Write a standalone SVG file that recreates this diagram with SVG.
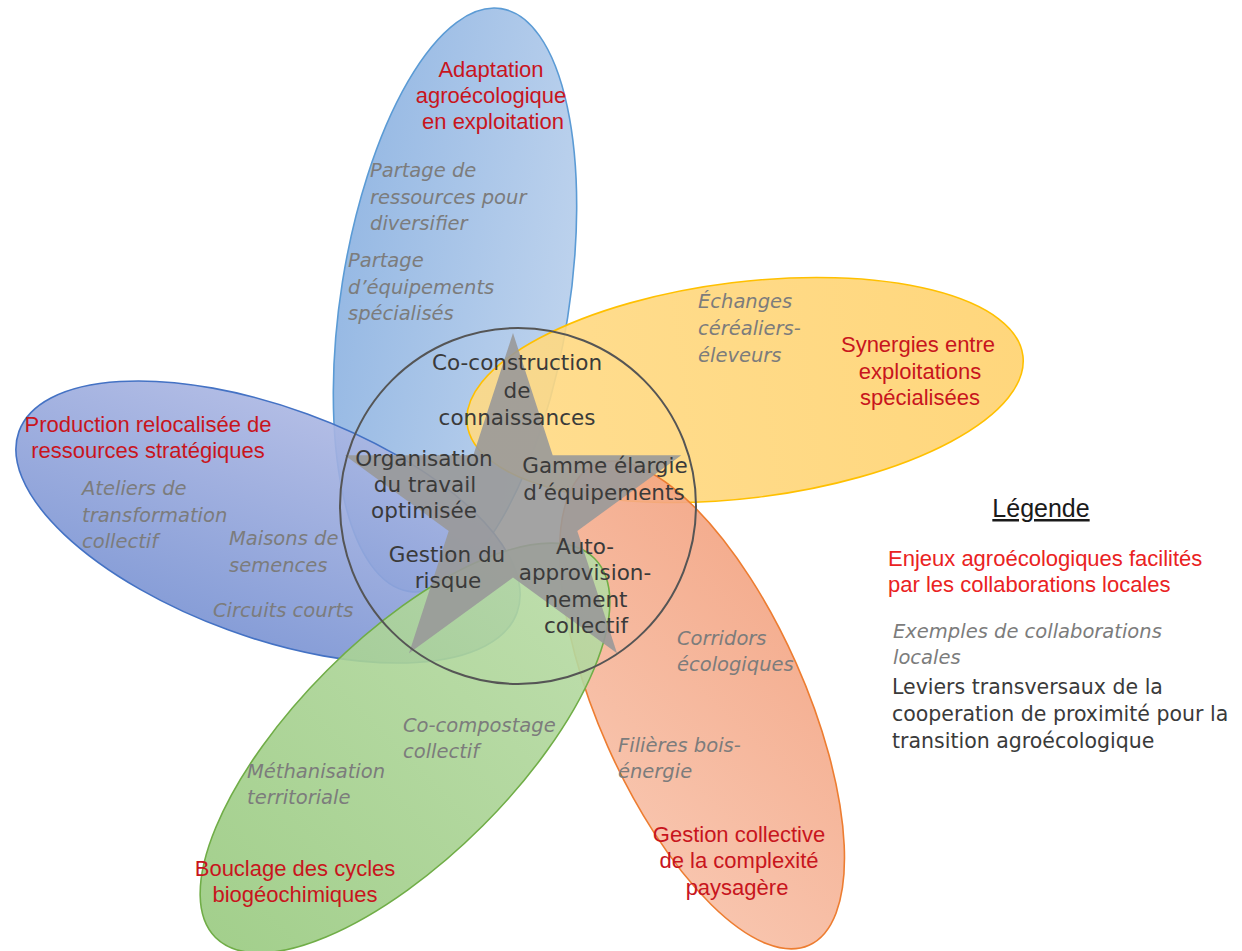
<svg xmlns="http://www.w3.org/2000/svg" width="1242" height="951" viewBox="0 0 1242 951">
<defs>
<linearGradient id="gTop" x1="0" y1="0" x2="1" y2="0"><stop offset="0" stop-color="#8cb2e1"/><stop offset="1" stop-color="#b5cdeb"/></linearGradient>
<linearGradient id="gLeft" x1="0" y1="0" x2="0" y2="1"><stop offset="0" stop-color="#a9b5e2"/><stop offset="1" stop-color="#7a93d3"/></linearGradient>
<linearGradient id="gYel" x1="0" y1="0" x2="1" y2="0"><stop offset="0" stop-color="#ffda85"/><stop offset="1" stop-color="#ffd26e"/></linearGradient>
<linearGradient id="gOra" x1="0" y1="1" x2="1" y2="0"><stop offset="0" stop-color="#f8c3ab"/><stop offset="1" stop-color="#f29f7c"/></linearGradient>
<linearGradient id="gGre" x1="0" y1="0" x2="1" y2="0"><stop offset="0" stop-color="#99ca80"/><stop offset="1" stop-color="#b8dba5"/></linearGradient>
<style>
.pet{fill-opacity:0.9;stroke-width:1.6}
.red{font-family:"Liberation Sans",Arial,sans-serif;font-size:22px;fill:#c8151d;text-anchor:middle}
.ex{font-family:"DejaVu Sans",Verdana,sans-serif;font-style:italic;font-size:19.5px;fill:#7c7c7c}
.lev{font-family:"DejaVu Sans",Verdana,sans-serif;font-size:21.5px;fill:#3a3a3a;text-anchor:middle}
.lg{font-family:"DejaVu Sans",Verdana,sans-serif;font-size:20.5px;fill:#3a3a3a}
.lr{font-family:"Liberation Sans",Arial,sans-serif;font-size:22px;fill:#ea2222}
</style>
</defs>
<rect width="1242" height="951" fill="#ffffff"/>

<g id="petal-adaptation">
<ellipse class="pet" cx="455" cy="300" rx="114" ry="295" transform="rotate(9 455 300)" fill="url(#gTop)" stroke="#5b9bd5"/>
<text class="red" x="491" y="77">Adaptation</text>
<text class="red" x="491" y="103">agroécologique</text>
<text class="red" x="493" y="129">en exploitation</text>
<text class="ex" x="370" y="177">Partage de</text>
<text class="ex" x="370" y="204">ressources pour</text>
<text class="ex" x="370" y="230">diversifier</text>
<text class="ex" x="348" y="267">Partage</text>
<text class="ex" x="348" y="294">d’équipements</text>
<text class="ex" x="348" y="320">spécialisés</text>
</g>

<g id="petal-production">
<ellipse class="pet" cx="268" cy="522" rx="265" ry="115" transform="rotate(20 268 522)" fill="url(#gLeft)" stroke="#4472c4"/>
<text class="red" x="148" y="432">Production relocalisée de</text>
<text class="red" x="148" y="458">ressources stratégiques</text>
<text class="ex" x="82" y="495">Ateliers de</text>
<text class="ex" x="82" y="522">transformation</text>
<text class="ex" x="82" y="548">collectif</text>
<text class="ex" x="229" y="545">Maisons de</text>
<text class="ex" x="229" y="572">semences</text>
<text class="ex" x="213" y="617">Circuits courts</text>
</g>

<g id="petal-synergies">
<ellipse class="pet" cx="745" cy="390" rx="280" ry="108" transform="rotate(-7 745 390)" fill="url(#gYel)" stroke="#ffc000"/>
<text class="red" x="918" y="352">Synergies entre</text>
<text class="red" x="920" y="379">exploitations</text>
<text class="red" x="920" y="405">spécialisées</text>
<text class="ex" x="698" y="308">Échanges</text>
<text class="ex" x="698" y="335">céréaliers-</text>
<text class="ex" x="698" y="362">éleveurs</text>
</g>

<g id="petal-paysage">
<ellipse class="pet" cx="702" cy="705" rx="103" ry="263" transform="rotate(-24 702 705)" fill="url(#gOra)" stroke="#ed7d31"/>
<text class="red" x="739" y="842">Gestion collective</text>
<text class="red" x="739" y="868">de la complexité</text>
<text class="red" x="737" y="895">paysagère</text>
<text class="ex" x="677" y="645">Corridors</text>
<text class="ex" x="677" y="671">écologiques</text>
<text class="ex" x="618" y="752">Filières bois-</text>
<text class="ex" x="618" y="778">énergie</text>
</g>

<g id="petal-bouclage">
<ellipse class="pet" cx="405" cy="748" rx="268" ry="110" transform="rotate(-45 405 748)" fill="url(#gGre)" stroke="#70ad47"/>
<text class="red" x="295" y="876">Bouclage des cycles</text>
<text class="red" x="295" y="902">biogéochimiques</text>
<text class="ex" x="403" y="732">Co-compostage</text>
<text class="ex" x="403" y="758">collectif</text>
<text class="ex" x="247" y="778">Méthanisation</text>
<text class="ex" x="247" y="804">territoriale</text>
</g>

<g id="leviers">
<polygon points="513,333 552.7,455.3 681.3,455.3 577.3,530.9 617,653.2 513,577.6 409,653.2 448.7,530.9 344.7,455.3 473.3,455.3" fill="#999999" fill-opacity="0.9"/>
<circle cx="518" cy="506" r="178" fill="none" stroke="#555555" stroke-width="2"/>
<text class="lev" x="517" y="370">Co-construction</text>
<text class="lev" x="517" y="398">de</text>
<text class="lev" x="517" y="425">connaissances</text>
<text class="lev" x="424" y="466">Organisation</text>
<text class="lev" x="425" y="492">du travail</text>
<text class="lev" x="424" y="518">optimisée</text>
<text class="lev" x="605" y="473">Gamme élargie</text>
<text class="lev" x="604" y="500">d’équipements</text>
<text class="lev" x="447" y="562">Gestion du</text>
<text class="lev" x="448" y="588">risque</text>
<text class="lev" x="585" y="554">Auto-</text>
<text class="lev" x="585" y="580">approvision-</text>
<text class="lev" x="586" y="607">nement</text>
<text class="lev" x="586" y="633">collectif</text>
</g>

<g id="legende">
<text x="1041" y="517" text-anchor="middle" font-family="'Liberation Sans',Arial,sans-serif" font-size="25" fill="#1a1a1a" text-decoration="underline">Légende</text>
<text class="lr" x="888" y="566">Enjeux agroécologiques facilités</text>
<text class="lr" x="888" y="592">par les collaborations locales</text>
<text class="ex" x="893" y="638">Exemples de collaborations</text>
<text class="ex" x="893" y="664">locales</text>
<text class="lg" x="892" y="694">Leviers transversaux de la</text>
<text class="lg" x="892" y="721">cooperation de proximité pour la</text>
<text class="lg" x="892" y="748">transition agroécologique</text>
</g>
</svg>
